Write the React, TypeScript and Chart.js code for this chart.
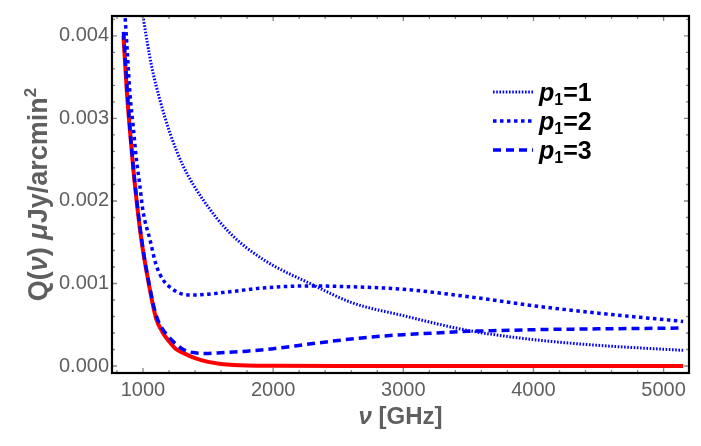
import { useEffect, useRef } from 'react';
import { Chart, registerables } from 'chart.js';
import type { Plugin } from 'chart.js';

Chart.register(...registerables);

// frecuencias (GHz) y valores Q(nu)
const nuRed = [850, 875, 900, 925, 950, 975, 1000, 1050, 1100, 1150, 1200, 1250, 1300, 1400, 1500, 1600, 1700, 1800, 2000, 2500, 3000, 4000, 5150];
const qRed = [0.0040, 0.00335, 0.00285, 0.0024, 0.00202, 0.00168, 0.0014, 0.00095, 0.00058, 0.00041, 0.0003, 0.00021, 0.000165, 0.000095, 0.00005, 0.000025, 0.000012, 0.000006, 0.000002, 0, 0, 0, 0];

const nuP1 = [985, 1000, 1067, 1131, 1208, 1310, 1464, 1669, 1925, 2310, 2600, 3000, 3500, 4000, 4500, 5150];
const qP1 = [0.0044, 0.00424, 0.00363, 0.00322, 0.00282, 0.00242, 0.00201, 0.00161, 0.00129, 0.00098, 0.00077, 0.00061, 0.00043, 0.00032, 0.00025, 0.00019];

const nuP2 = [860, 880, 900, 925, 950, 975, 1000, 1054, 1100, 1156, 1220, 1285, 1387, 1500, 1669, 1951, 2285, 2600, 3000, 3500, 4000, 4500, 5150];
const qP2 = [0.0043, 0.0038, 0.0033, 0.0029, 0.0025, 0.0022, 0.00188, 0.00153, 0.00123, 0.00104, 0.00094, 0.00088, 0.00086, 0.00087, 0.0009, 0.00095, 0.00097, 0.00096, 0.00093, 0.00084, 0.00073, 0.00064, 0.00054];

const nuP3 = [850, 900, 950, 1000, 1050, 1100, 1150, 1200, 1250, 1300, 1350, 1400, 1500, 1600, 1800, 2000, 2250, 2500, 2750, 3000, 3250, 3500, 3750, 4000, 4500, 5150];
const qP3 = [0.00405, 0.00287, 0.00204, 0.00142, 0.00097, 0.00062, 0.00045, 0.00035, 0.00027, 0.00021, 0.000175, 0.00016, 0.000152, 0.00016, 0.00018, 0.00021, 0.00026, 0.00031, 0.00035, 0.00038, 0.0004, 0.00042, 0.00043, 0.00044, 0.00045, 0.00046];

const xTicks = [1000, 2000, 3000, 4000, 5000];
const yTicks = [0, 0.001, 0.002, 0.003, 0.004];
const legendLabels = ['1', '2', '3'];

const FONT = '"Liberation Sans", Arial, sans-serif';
const GRAY = '#5f5f5f';
const BLUE = '#0000ff';
const RED = '#ff0000';

const seriesStyles = [
  { width: 3, dash: [1.6, 1.6] },
  { width: 3.5, dash: [3.5, 3.5] },
  { width: 3.5, dash: [8, 5] },
];

const toPoints = (xs: number[], ys: number[]) => xs.map((x, i) => ({ x, y: ys[i] }));

// Marco estilo Mathematica con marcas hacia dentro, títulos y leyenda
const framePlugin: Plugin<'line'> = {
  id: 'mmaFrame',
  afterDraw(chart) {
    const { ctx, chartArea: a } = chart;
    const xs = chart.scales.x;
    const ys = chart.scales.y;
    ctx.save();

    // marcas menores y mayores
    ctx.strokeStyle = '#888888';
    ctx.lineWidth = 1.3;
    ctx.beginPath();
    for (let v = 800; v <= 5200; v += 200) {
      if (v < xs.min || v > xs.max) continue;
      const px = xs.getPixelForValue(v);
      const len = v % 1000 === 0 ? 5 : 3;
      ctx.moveTo(px, a.bottom); ctx.lineTo(px, a.bottom - len);
      ctx.moveTo(px, a.top); ctx.lineTo(px, a.top + len);
    }
    for (let k = 0; k <= 21; k++) {
      const v = k * 0.0002;
      if (v > ys.max) continue;
      const py = ys.getPixelForValue(v);
      const len = k % 5 === 0 ? 5 : 3;
      ctx.moveTo(a.left, py); ctx.lineTo(a.left + len, py);
      ctx.moveTo(a.right, py); ctx.lineTo(a.right - len, py);
    }
    ctx.stroke();

    // marco
    ctx.strokeStyle = '#000000';
    ctx.lineWidth = 2.2;
    ctx.strokeRect(a.left, a.top, a.right - a.left, a.bottom - a.top);

    // título eje x
    ctx.fillStyle = GRAY;
    ctx.textBaseline = 'middle';
    const fx1 = `italic bold 24px ${FONT}`;
    const fx2 = `bold 24px ${FONT}`;
    ctx.font = fx1;
    const w1 = ctx.measureText('ν').width;
    ctx.font = fx2;
    const w2 = ctx.measureText(' [GHz]').width;
    const x0 = (a.left + a.right) / 2 - (w1 + w2) / 2;
    ctx.textAlign = 'left';
    ctx.font = fx1;
    ctx.fillText('ν', x0, 417);
    ctx.font = fx2;
    ctx.fillText(' [GHz]', x0 + w1, 417);

    // título eje y
    const parts: [string, string, number][] = [
      ['Q(', `bold 27px ${FONT}`, 0],
      ['ν', `italic bold 27px ${FONT}`, 0],
      [') ', `bold 27px ${FONT}`, 0],
      ['μ', `italic bold 27px ${FONT}`, 0],
      ['Jy/arcmin', `bold 27px ${FONT}`, 0],
      ['2', `bold 17px ${FONT}`, -11],
    ];
    let total = 0;
    parts.forEach(([t, f]) => { ctx.font = f; total += ctx.measureText(t).width; });
    ctx.translate(47, (a.top + a.bottom) / 2);
    ctx.rotate(-Math.PI / 2);
    ctx.textBaseline = 'alphabetic';
    let cx = -total / 2;
    parts.forEach(([t, f, dy]) => {
      ctx.font = f;
      ctx.fillText(t, cx, dy);
      cx += ctx.measureText(t).width;
    });
    ctx.setTransform(1, 0, 0, 1, 0, 0);
    ctx.scale(chart.currentDevicePixelRatio, chart.currentDevicePixelRatio);

    // leyenda
    const rows = [92, 121, 150];
    legendLabels.forEach((lab, i) => {
      const y = rows[i];
      ctx.strokeStyle = BLUE;
      ctx.lineWidth = seriesStyles[i].width;
      ctx.setLineDash(seriesStyles[i].dash);
      ctx.beginPath();
      ctx.moveTo(493, y); ctx.lineTo(533, y);
      ctx.stroke();
      ctx.setLineDash([]);
      ctx.fillStyle = '#000000';
      ctx.textBaseline = 'alphabetic';
      let tx = 539;
      ctx.font = `italic bold 25px ${FONT}`;
      ctx.fillText('p', tx, y + 9);
      tx += ctx.measureText('p').width;
      ctx.font = `bold 16px ${FONT}`;
      ctx.fillText('1', tx, y + 13);
      tx += ctx.measureText('1').width;
      ctx.font = `bold 25px ${FONT}`;
      ctx.fillText('=' + lab, tx, y + 9);
    });
    ctx.restore();
  },
};

export default function App() {
  const canvasRef = useRef<HTMLCanvasElement>(null);

  useEffect(() => {
    if (!canvasRef.current) return;
    const chart = new Chart(canvasRef.current, {
      type: 'line',
      data: {
        datasets: [
          ...[toPoints(nuP1, qP1), toPoints(nuP2, qP2), toPoints(nuP3, qP3)].map((pts, i) => ({
            label: 'p1=' + legendLabels[i],
            data: pts,
            borderColor: BLUE,
            borderWidth: seriesStyles[i].width,
            borderDash: seriesStyles[i].dash,
            pointRadius: 0,
            fill: false,
            cubicInterpolationMode: 'monotone' as const,
          })),
          {
            label: 'Q',
            data: toPoints(nuRed, qRed),
            borderColor: RED,
            borderWidth: 4,
            pointRadius: 0,
            fill: false,
            cubicInterpolationMode: 'monotone' as const,
          },
        ],
      },
      options: {
        animation: false,
        responsive: true,
        maintainAspectRatio: false,
        layout: { padding: { top: 16, right: 12, left: 0, bottom: 0 } },
        plugins: { legend: { display: false }, tooltip: { enabled: false } },
        scales: {
          x: {
            type: 'linear',
            min: 762,
            max: 5195,
            grid: { display: false, drawTicks: false },
            border: { display: false },
            afterFit: (s) => { s.height = 73; },
            afterBuildTicks: (s) => { s.ticks = xTicks.map(v => ({ value: v })); },
            ticks: {
              color: GRAY,
              font: { size: 20, family: FONT },
              padding: 5,
              maxRotation: 0,
              autoSkip: false,
              callback: (v) => String(v),
            },
          },
          y: {
            type: 'linear',
            min: -0.000085,
            max: 0.004242,
            grid: { display: false, drawTicks: false },
            border: { display: false },
            afterFit: (s) => { s.width = 112; },
            afterBuildTicks: (s) => { s.ticks = yTicks.map(v => ({ value: v })); },
            ticks: {
              color: GRAY,
              font: { size: 20, family: FONT },
              padding: 3,
              callback: (v) => Number(v).toFixed(3),
            },
          },
        },
      },
      plugins: [framePlugin],
    });
    return () => chart.destroy();
  }, []);

  return (
    <div style={{ position: 'fixed', left: 0, top: 0, width: 701, height: 446, background: '#fff' }}>
      <canvas ref={canvasRef} />
    </div>
  );
}
